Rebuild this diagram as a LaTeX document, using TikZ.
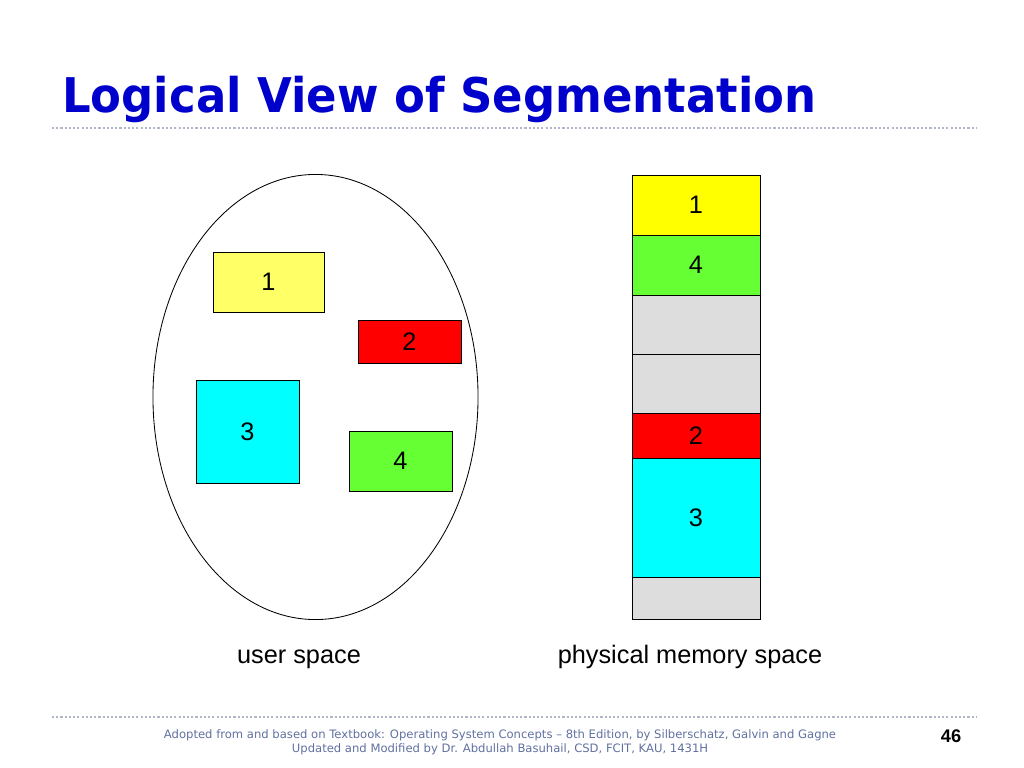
\documentclass[tikz,border=0pt]{standalone}
\usepackage{fontspec}
\setmainfont{Liberation Sans}
\newfontfamily\headfont{DejaVu Sans}
\usetikzlibrary{positioning}
\definecolor{headblue}{RGB}{0,0,204}
\definecolor{footgray}{RGB}{96,112,160}
\definecolor{rulegray}{RGB}{176,184,200}
\definecolor{segyellow}{RGB}{255,255,102}
\definecolor{memyellow}{RGB}{255,255,0}
\definecolor{seggreen}{RGB}{102,255,51}
\definecolor{segred}{RGB}{255,0,0}
\definecolor{segcyan}{RGB}{0,255,255}
\definecolor{freegray}{RGB}{221,221,221}

\begin{document}
\begin{tikzpicture}[x=0.025cm,y=-0.025cm,
  seg/.style={draw,line width=0.6pt,outer sep=0pt,inner sep=0pt,font=\fontsize{18}{18}\selectfont},
  mem/.style={seg,minimum width=3.2cm},
  dotrule/.style={rulegray,line width=0.8pt,dash pattern=on 1.5pt off 1.5pt}]
\useasboundingbox (0,0) rectangle (1024,768);
% title and rules
\node[anchor=base west,inner sep=0pt,headblue,xscale=0.94,font=\headfont\bfseries\fontsize{34}{34}\selectfont] (title) at (62,113) {Logical View of Segmentation};
\draw[dotrule] (52,128)--(976,128);
\draw[dotrule] (52,717)--(976,717);
% user space
\draw[line width=0.6pt] (315.5,397) ellipse [x radius=4.0625cm, y radius=5.5625cm];
\node[seg,fill=segyellow,minimum width=2.775cm,minimum height=1.5cm] (u1) at (268.5,282) {1};
\node[seg,fill=segred,minimum width=2.575cm,minimum height=1.075cm] (u2) at (409.5,341.5) {2};
\node[seg,fill=segcyan,minimum width=2.575cm,minimum height=2.575cm] (u3) at (247.5,431.5) {3};
\node[seg,fill=seggreen,minimum width=2.575cm,minimum height=1.5cm] (u4) at (400.5,461) {4};
\node[anchor=base,font=\fontsize{18}{18}\selectfont] (ulabel) at (299,663) {user space};
% physical memory
\node[mem,fill=memyellow,minimum height=1.5cm,anchor=north] (m1) at (696,175) {1};
\node[mem,fill=seggreen,minimum height=1.5cm,below=0pt of m1] (m4) {4};
\node[mem,fill=freegray,minimum height=1.475cm,below=0pt of m4] (f1) {};
\node[mem,fill=freegray,minimum height=1.475cm,below=0pt of f1] (f2) {};
\node[mem,fill=segred,minimum height=1.125cm,below=0pt of f2] (m2) {2};
\node[mem,fill=segcyan,minimum height=2.975cm,below=0pt of m2] (m3) {3};
\node[mem,fill=freegray,minimum height=1.05cm,below=0pt of m3] (f3) {};
\node[anchor=base,font=\fontsize{18}{18}\selectfont] (mlabel) at (690,663) {physical memory space};
% footer
\node[footgray,font=\headfont\fontsize{8.25}{9}\selectfont] (foot1) at (500,735) {Adopted from and based on Textbook: Operating System Concepts – 8th Edition, by Silberschatz, Galvin and Gagne};
\node[footgray,font=\headfont\fontsize{8.25}{9}\selectfont] (foot2) at (500,749) {Updated and Modified by Dr. Abdullah Basuhail, CSD, FCIT, KAU, 1431H};
\node[font=\bfseries\fontsize{13}{13}\selectfont] (pageno) at (951,736) {46};
\end{tikzpicture}
\end{document}
